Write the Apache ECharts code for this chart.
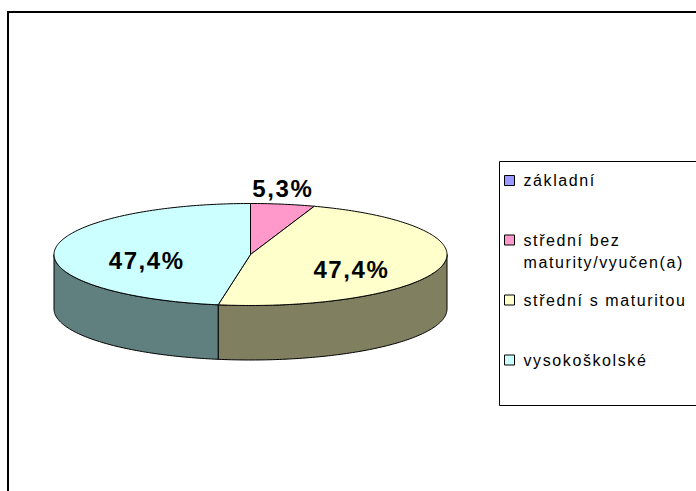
<!DOCTYPE html>
<html>
<head>
<meta charset="utf-8">
<script src="https://cdn.jsdelivr.net/npm/echarts@6/dist/echarts.min.js"></script>
<style>
html, body { margin: 0; padding: 0; background: #fff; }
#main { width: 696px; height: 491px; }
/* Excel spaced its text a bit wider */
#main text { letter-spacing: 1.6px; }
</style>
</head>
<body>
<div id="main"></div>
<script>
// vzdělání - podíly
var categories = ['základní', 'střední bez maturity/vyučen(a)', 'střední s maturitou', 'vysokoškolské'];
var values = [0, 1, 9, 9];
var topColors = ['#9999FF', '#FF99CC', '#FFFFCC', '#CCFFFF'];
var sideColors = ['#4D4D80', '#804D66', '#808060', '#608080'];

// 3D pie geometry (ellipse + depth)
var cx = 250.5, cy = 254.5, rx = 196.5, ry = 51, depth = 54.5;
var fontName = "'Liberation Sans', Arial, sans-serif";

var total = 0, starts = [];
for (var i = 0; i < values.length; i++) { starts.push(total); total += values[i]; }

function pt(a, dy, k) {
	k = k || 1;
	return [cx + rx * k * Math.sin(a), cy - ry * k * Math.cos(a) + dy];
}
function arc(a0, a1, dy) {
	var n = Math.max(2, Math.ceil((a1 - a0) / (Math.PI / 180)));
	var pts = [];
	for (var j = 0; j <= n; j++) pts.push(pt(a0 + (a1 - a0) * j / n, dy));
	return pts;
}
function pct(v) {
	return (v / total * 100).toFixed(1).replace('.', ',') + '%';
}

function makeRender(idx) {
	return function (params, api) {
		var v = api.value(0);
		if (!v) return null;
		var a0 = starts[idx] / total * Math.PI * 2;
		var a1 = (starts[idx] + v) / total * Math.PI * 2;
		var children = [];
		// front wall, only the part facing us
		var b0 = Math.max(a0, Math.PI / 2), b1 = Math.min(a1, Math.PI * 1.5);
		if (b1 > b0) {
			children.push({
				type: 'polygon',
				shape: { points: arc(b0, b1, 0).concat(arc(b0, b1, depth).reverse()) },
				style: { fill: sideColors[idx], stroke: '#000', lineWidth: 1 }
			});
		}
		children.push({
			type: 'polygon',
			shape: { points: [[cx, cy]].concat(arc(a0, a1, 0)) },
			style: { fill: topColors[idx], stroke: '#000', lineWidth: 1 }
		});
		var m = (a0 + a1) / 2, p;
		if (v / total < 0.1) {
			p = pt(m, 0);
			p[1] -= 16;
		} else {
			p = pt(m, 8, 0.53);
		}
		children.push({
			type: 'text',
			x: p[0], y: p[1],
			style: { text: pct(v), font: 'bold 24px ' + fontName, fill: '#000', align: 'center', verticalAlign: 'middle' }
		});
		return { type: 'group', children: children };
	};
}

var series = [];
for (var s = 0; s < categories.length; s++) {
	series.push({
		name: categories[s],
		type: 'custom',
		coordinateSystem: 'none',
		itemStyle: { color: topColors[s] },
		renderItem: makeRender(s),
		data: [values[s]]
	});
}

// legend rows: icon centre y
var legendRows = [180.5, 240, 300, 360];
var lineH = 22;
var legends = categories.map(function (name, k) {
	var twoLine = name.indexOf('bez ') > 0;
	return {
		data: [name],
		left: 504,
		top: legendRows[k] - (twoLine ? 1.5 : 0.5) * lineH,
		orient: 'vertical',
		padding: 0,
		selectedMode: false,
		icon: 'rect',
		itemWidth: 10,
		itemHeight: 10,
		itemStyle: { borderColor: '#000', borderWidth: 1 },
		formatter: function (n) {
			var lines = n.indexOf('bez ') > 0 ? ['', 'střední bez', 'maturity/vyučen(a)'] : [n];
			return lines.map(function (l) { return '{g|}' + l; }).join('\n');
		},
		textStyle: {
			fontSize: 16, fontFamily: fontName, color: '#000', lineHeight: lineH,
			rich: { g: { width: 4, lineHeight: lineH } }
		}
	};
});

var myChart = echarts.init(document.getElementById('main'), null, { renderer: 'svg' });
var option = {
	backgroundColor: '#fff',
	animation: false,
	legend: legends,
	graphic: [
		{ type: 'rect', shape: { x: 8, y: 12, width: 800, height: 600 }, style: { fill: 'none', stroke: '#000', lineWidth: 2 } },
		{ type: 'rect', shape: { x: 499.5, y: 161.5, width: 300, height: 244 }, style: { fill: 'none', stroke: '#000', lineWidth: 1 } }
	],
	series: series
};
myChart.setOption(option);
</script>
</body>
</html>
